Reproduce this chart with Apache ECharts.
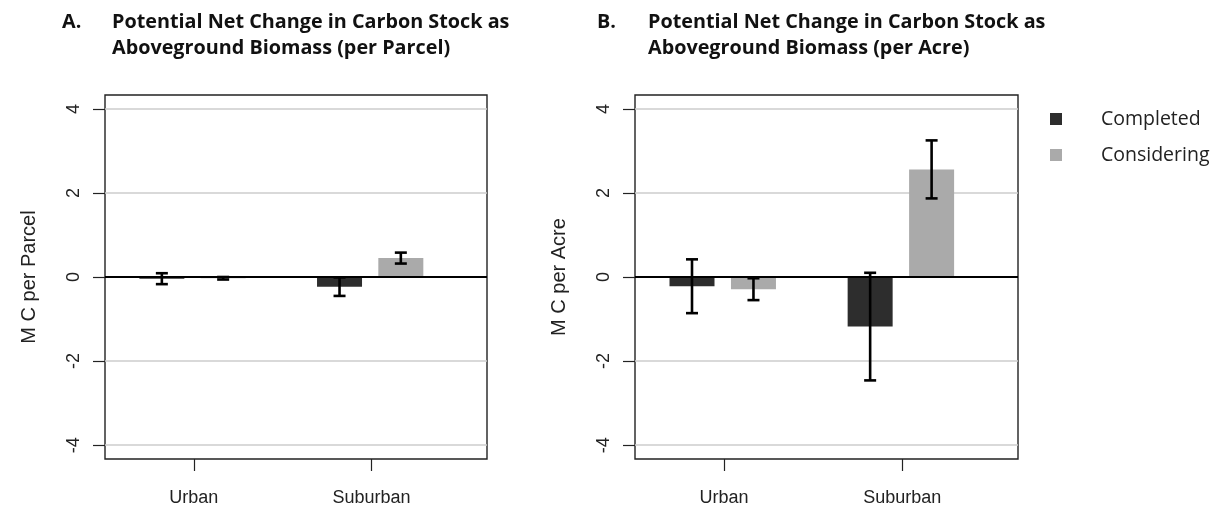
<!DOCTYPE html>
<html>
<head>
<meta charset="utf-8">
<script src="https://cdn.jsdelivr.net/npm/echarts@6/dist/echarts.min.js"></script>
<style>html,body{margin:0;padding:0;background:#fff}#chart{width:1227px;height:515px}</style>
</head>
<body>
<div id="chart"></div>
<script>
// ---- data ----
const categories = ['Urban', 'Suburban'];
const seriesNames = ['Completed', 'Considering'];
const yTicks = [-4, -2, 0, 2, 4];
// Panel A: per parcel
const parcelCompleted = [-0.04, -0.23];
const parcelCompletedErr = [0.13, 0.22];
const parcelConsidering = [-0.03, 0.45];
const parcelConsideringErr = [0.03, 0.13];
// Panel B: per acre
const acreCompleted = [-0.22, -1.18];
const acreCompletedErr = [0.64, 1.28];
const acreConsidering = [-0.29, 2.56];
const acreConsideringErr = [0.26, 0.69];

// ---- layout helpers ----
const catPos = categories.map((c, i) => 1 + 2 * i);
const barOffset = [-0.36, 0.33];
const colors = ['#2d2d2d', '#aaaaaa'];
const sansFont = 'Liberation Sans';
const titleFont = 'Open Sans';

function barData(vals, k) { return vals.map((v, i) => [catPos[i] + barOffset[k], v]); }
function errData(vals, errs, k) { return vals.map((v, i) => [catPos[i] + barOffset[k], v, errs[i]]); }

function errRender(params, api) {
  const x = api.value(0), y = api.value(1), e = api.value(2);
  const t = api.coord([x, y + e]), b = api.coord([x, y - e]);
  const hw = 6;
  const st = { stroke: '#000', lineWidth: 2.6 };
  return { type: 'group', children: [
    { type: 'line', shape: { x1: t[0], y1: t[1], x2: b[0], y2: b[1] }, style: st },
    { type: 'line', shape: { x1: t[0] - hw, y1: t[1], x2: t[0] + hw, y2: t[1] }, style: st },
    { type: 'line', shape: { x1: b[0] - hw, y1: b[1], x2: b[0] + hw, y2: b[1] }, style: st }
  ]};
}

const grids = [
  { left: 105, top: 95, width: 382, height: 364, show: true, borderColor: '#222', borderWidth: 1.4, backgroundColor: '#fff' },
  { left: 635, top: 95, width: 383, height: 364, show: true, borderColor: '#222', borderWidth: 1.4, backgroundColor: '#fff' }
];
const yNames = ['M C per Parcel', 'M C per Acre'];

const xAxes = [0, 1].map(g => ({
  type: 'value', gridIndex: g, min: 0, max: 4.3,
  axisLine: { show: false, onZero: false }, splitLine: { show: false },
  axisTick: { show: true, customValues: catPos, length: 12, lineStyle: { color: '#222', width: 1.2 } },
  axisLabel: { customValues: catPos, formatter: v => categories[catPos.indexOf(v)] || '', margin: 30,
    fontFamily: sansFont, fontSize: 18, color: '#222' }
}));
const yAxes = [0, 1].map(g => ({
  type: 'value', gridIndex: g, min: -4.33, max: 4.33,
  name: yNames[g], nameLocation: 'middle', nameGap: 66,
  nameTextStyle: { fontFamily: sansFont, fontSize: 20, color: '#222' },
  axisLine: { show: false, onZero: false },
  splitLine: { show: true, lineStyle: { color: '#cccccc', width: 1.5 } },
  axisTick: { show: true, customValues: yTicks, length: 12, lineStyle: { color: '#222', width: 1.2 } },
  axisLabel: { customValues: yTicks, rotate: 90, margin: 22, fontFamily: sansFont, fontSize: 18, color: '#222' }
}));

const panels = [
  { vals: [parcelCompleted, parcelConsidering], errs: [parcelCompletedErr, parcelConsideringErr] },
  { vals: [acreCompleted, acreConsidering], errs: [acreCompletedErr, acreConsideringErr] }
];
const series = [];
panels.forEach((p, g) => {
  [0, 1].forEach(k => {
    series.push({
      type: 'bar', name: seriesNames[k], xAxisIndex: g, yAxisIndex: g,
      data: barData(p.vals[k], k), barWidth: 45, barGap: '-100%',
      itemStyle: { color: colors[k] }, z: 2, silent: true
    });
  });
  [0, 1].forEach(k => {
    const s = {
      type: 'custom', xAxisIndex: g, yAxisIndex: g, z: 6, silent: true,
      renderItem: errRender, encode: { x: 0, y: 1 },
      data: errData(p.vals[k], p.errs[k], k)
    };
    if (k === 0) {
      s.markLine = { silent: true, symbol: 'none', label: { show: false },
        lineStyle: { color: '#000', width: 2.2, type: 'solid' }, data: [{ yAxis: 0 }] };
    }
    series.push(s);
  });
});

const tStyle = { fontFamily: titleFont, fontWeight: 'bold', fontSize: 19.8, lineHeight: 26, color: '#111' };
const option = {
  backgroundColor: '#fff',
  animation: false,
  title: [
    { text: 'A.', left: 57, top: 4, textStyle: tStyle },
    { text: 'Potential Net Change in Carbon Stock as\nAboveground Biomass (per Parcel)', left: 107, top: 4, textStyle: tStyle },
    { text: 'B.', left: 592, top: 4, textStyle: tStyle },
    { text: 'Potential Net Change in Carbon Stock as\nAboveground Biomass (per Acre)', left: 643, top: 4, textStyle: tStyle }
  ],
  legend: {
    data: seriesNames, orient: 'vertical', left: 1045, top: 104, icon: 'rect',
    itemWidth: 12, itemHeight: 12, itemGap: 16,
    textStyle: { fontFamily: titleFont, fontSize: 19.5, color: '#222', padding: [0, 0, 0, 34] }
  },
  grid: grids, xAxis: xAxes, yAxis: yAxes, series: series
};
const chart = echarts.init(document.getElementById('chart'), null, { renderer: 'canvas' });
chart.setOption(option);
</script>
</body>
</html>
